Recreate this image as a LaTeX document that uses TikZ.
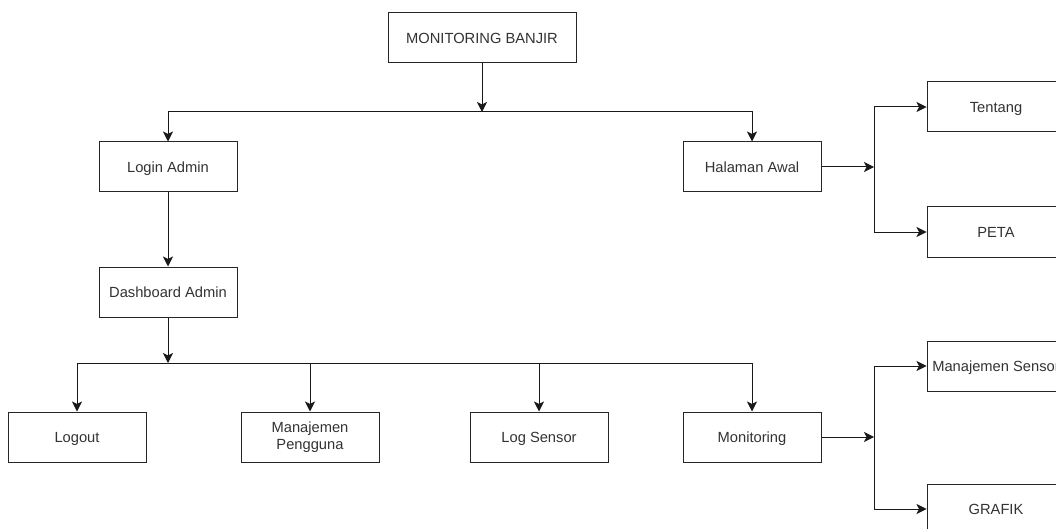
\documentclass[tikz,border=0pt]{standalone}
\usepackage{fontspec}
\setmainfont{Liberation Sans}
\usetikzlibrary{arrows.meta}
\begin{document}
\begin{tikzpicture}[x=1pt,y=-1pt,
  boxbase/.style={draw=black!85,line width=1pt,fill=white,minimum width=138pt,minimum height=50pt,
    inner sep=0pt,align=center,text=black!80,font=\fontsize{14.7}{17}\selectfont},
  box/.style={boxbase,text height=10.5pt,text depth=0pt},
  arr/.style={draw=black!90,line width=1pt,-{Stealth[length=10pt,width=10pt,inset=2.5pt]}}]
\useasboundingbox (0,0) rectangle (1056,529);
\clip (0,0) rectangle (1056,529);
\fill[white] (0,0) rectangle (1056,529);

% menu tree nodes
\node[box,minimum width=188pt] (root) at (482,38) {MONITORING BANJIR};
\node[box] (login) at (168,167) {Login Admin};
\node[box] (halaman) at (752,167) {Halaman Awal};
\node[box] (dash) at (168,292) {Dashboard Admin};
\node[box] (logout) at (77,437) {Logout};
\node[boxbase] (mpeng) at (310,437) {Manajemen\\Pengguna};
\node[box] (logsens) at (539,437) {Log Sensor};
\node[box] (monit) at (752,437) {Monitoring};
\node[box] (tentang) at (996,107) {Tentang};
\node[box] (peta) at (996,232) {PETA};
\node[box] (msensor) at (996,366) {Manajemen Sensor};
\node[box] (grafik) at (996,509) {GRAFIK};

% branching points
\coordinate (jroot) at (482,112);
\coordinate (jdash) at (168,363);
\coordinate (jhal) at (874,167);
\coordinate (jmon) at (874,437);

% connectors
\draw[arr] (root.south) -- (jroot);
\draw[arr] (jroot) -| (login.north);
\draw[arr] (jroot) -| (halaman.north);
\draw[arr] (login.south) -- (dash.north);
\draw[arr] (dash.south) -- (jdash);
\draw[arr] (jdash) -| (logout.north);
\draw[arr] (jdash) -| (mpeng.north);
\draw[arr] (jdash) -| (logsens.north);
\draw[arr] (jdash) -| (monit.north);
\draw[arr] (halaman.east) -- (jhal);
\draw[arr] (jhal) |- (tentang.west);
\draw[arr] (jhal) |- (peta.west);
\draw[arr] (monit.east) -- (jmon);
\draw[arr] (jmon) |- (msensor.west);
\draw[arr] (jmon) |- (grafik.west);
\end{tikzpicture}
\end{document}
